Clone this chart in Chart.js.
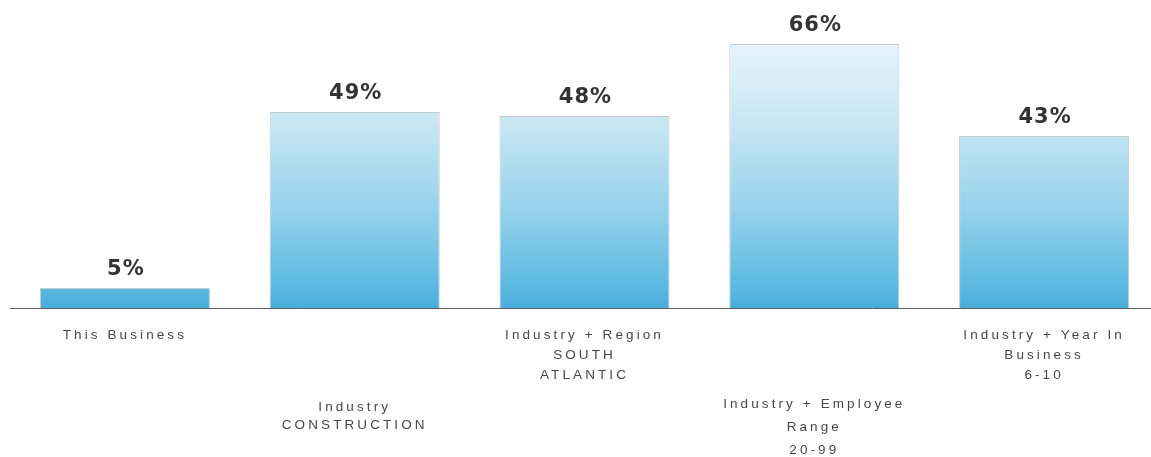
<!DOCTYPE html>
<html>
<head>
<meta charset="utf-8">
<title>Comparison</title>
<script src="https://cdn.jsdelivr.net/npm/chart.js@4.4.1/dist/chart.umd.min.js"></script>
<style>
  html, body { margin: 0; padding: 0; background: #fff; overflow: hidden; }
  #wrap { width: 1160px; height: 457px; }
</style>
</head>
<body>
<div id="wrap"><canvas id="cmp" width="1160" height="457"></canvas></div>
<script>
const categories = [
  ['This Business'],
  ['Industry', 'CONSTRUCTION'],
  ['Industry + Region', 'SOUTH', 'ATLANTIC'],
  ['Industry + Employee', 'Range', '20-99'],
  ['Industry + Year In', 'Business', '6-10']
];
const percents = [5, 49, 48, 66, 43];

// every other label sits lower so the long ones don't collide
const lowered = [false, true, false, true, false];
const lowerLineHeights = { 1: 18.2, 3: 22.7 };
const blankLines = { 1: 4, 3: 3 };

function barFill(chart) {
  const area = chart.chartArea;
  if (!area) return '#4aaedc';
  const g = chart.ctx.createLinearGradient(0, area.top, 0, area.bottom);
  g.addColorStop(0, '#f6fcfe');
  g.addColorStop(0.12, '#e6f4fa');
  g.addColorStop(0.36, '#cbe8f3');
  g.addColorStop(0.67, '#97d2eb');
  g.addColorStop(0.93, '#5bb9e0');
  g.addColorStop(1, '#48acdc');
  return g;
}

const spacing = {
  id: 'spacing',
  beforeDraw(chart) { chart.ctx.letterSpacing = '3.1px'; },
  beforeDatasetsDraw(chart) { chart.ctx.letterSpacing = '0px'; },
  afterDraw(chart) { chart.ctx.letterSpacing = '0px'; }
};

const valueLabels = {
  id: 'valueLabels',
  afterDatasetsDraw(chart) {
    const ctx = chart.ctx;
    const meta = chart.getDatasetMeta(0);
    ctx.save();
    ctx.letterSpacing = '1px';
    ctx.font = 'bold 21px "DejaVu Sans", sans-serif';
    ctx.fillStyle = '#333333';
    ctx.textAlign = 'center';
    ctx.textBaseline = 'middle';
    meta.data.forEach((bar, i) => {
      ctx.fillText(percents[i] + '%', bar.x + 1, bar.y - 18);
    });
    ctx.restore();
  }
};

new Chart(document.getElementById('cmp'), {
  type: 'bar',
  data: {
    labels: categories,
    datasets: [{
      data: percents,
      backgroundColor: ctx => barFill(ctx.chart),
      borderColor: 'rgba(140,160,170,0.55)',
      borderWidth: { top: 1, left: 1, right: 1, bottom: 0 },
      borderSkipped: 'bottom',
      categoryPercentage: 1,
      barPercentage: 0.74
    }]
  },
  options: {
    responsive: false,
    animation: false,
    devicePixelRatio: 1,
    layout: { padding: { top: 8, left: 10, right: 1, bottom: 0 } },
    plugins: {
      legend: { display: false },
      tooltip: { enabled: false }
    },
    scales: {
      x: {
        grid: { display: false, drawTicks: false },
        border: { display: true, color: '#5e5e5e', width: 1 },
        afterFit: scale => { scale.height = 149; },
        ticks: {
          maxRotation: 0,
          autoSkip: false,
          padding: 17,
          color: '#474747',
          font: ctx => ({
            family: '"Liberation Sans", Arial, sans-serif',
            size: 13.5,
            lineHeight: (lowerLineHeights[ctx.index] || 20) + 'px'
          }),
          callback: function (value, index) {
            const lines = categories[index];
            if (!lowered[index]) return lines;
            return Array(blankLines[index]).fill('').concat(lines);
          }
        }
      },
      y: {
        display: false,
        min: 0,
        max: 75
      }
    }
  },
  plugins: [spacing, valueLabels]
});
</script>
</body>
</html>
